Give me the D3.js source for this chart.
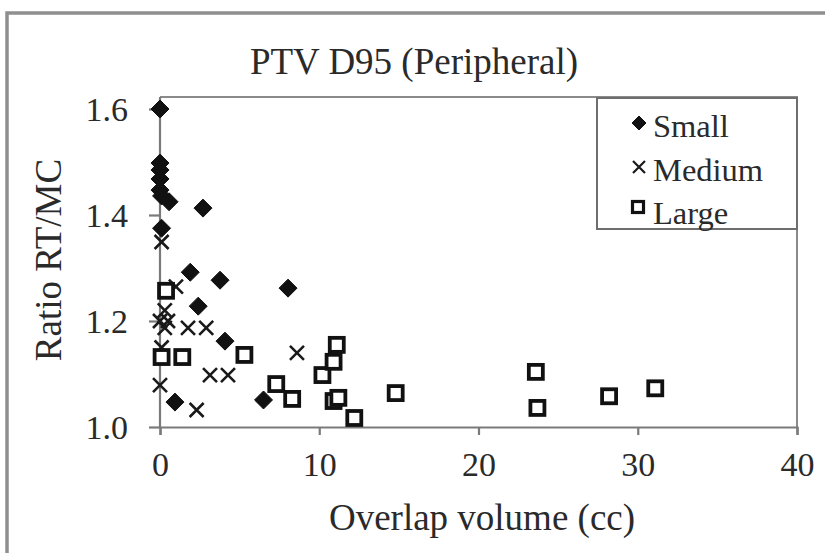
<!DOCTYPE html>
<html>
<head>
<meta charset="utf-8">
<script src="https://cdn.jsdelivr.net/npm/d3@7"></script>
<style>
  html, body { margin: 0; padding: 0; background: #fff; }
  svg { display: block; }
  text { font-family: "Liberation Serif", "DejaVu Serif", serif; fill: #2a2a2a; }
</style>
</head>
<body>
<svg id="chart" width="825" height="553"></svg>
<script>
// Overlap volume (cc) and RT/MC dose ratio for each target size group
const smallX  = [0, 0, 0, 0, 0, 0.1, 0.57, 2.7, 0.1, 1.9, 3.77, 2.4, 4.08, 8.04, 0.94, 6.5];
const smallY  = [1.60, 1.498, 1.485, 1.468, 1.447, 1.436, 1.425, 1.413, 1.375, 1.292, 1.277, 1.228, 1.162, 1.262, 1.047, 1.051];

const mediumX = [0.1, 1.0, 0.3, 0, 0.5, 0.3, 1.76, 2.9, 3.14, 4.27, 0, 2.3, 8.6, 0.1];
const mediumY = [1.349, 1.265, 1.22, 1.20, 1.20, 1.187, 1.187, 1.187, 1.098, 1.098, 1.079, 1.032, 1.14, 1.15];

const largeX  = [0.1, 1.4, 0.38, 5.3, 7.3, 8.3, 10.2, 10.9, 11.1, 10.9, 11.2, 12.2, 14.8, 23.6, 23.7, 28.2, 31.1];
const largeY  = [1.132, 1.132, 1.257, 1.136, 1.081, 1.053, 1.098, 1.123, 1.155, 1.049, 1.055, 1.017, 1.064, 1.104, 1.036, 1.058, 1.073];

const xTicks = [0, 10, 20, 30, 40];
const yTicks = [1.0, 1.2, 1.4, 1.6];
const seriesNames = ["Small", "Medium", "Large"];

const svg = d3.select("#chart");
const W = 825, H = 553;

const plotLeft = 160, plotRight = 797, plotTop = 97, plotBottom = 427;
const x = d3.scaleLinear().domain([0, 40]).range([plotLeft, plotRight]);
const y = d3.scaleLinear().domain([1.0, 1.6]).range([plotBottom, 109]);

const axisGray = "#7a7a7a";

// outer chart frame
svg.append("rect")
  .attr("x", 7).attr("y", 13).attr("width", W + 20).attr("height", H + 20)
  .attr("fill", "#fff").attr("stroke", "#8f8f8f").attr("stroke-width", 3.5);

// plot area border (top and right)
svg.append("path")
  .attr("d", `M${plotLeft},${plotTop}H${plotRight}V${plotBottom}`)
  .attr("fill", "none").attr("stroke", "#8a8a8a").attr("stroke-width", 2);

// axes
const xAxis = svg.append("g").attr("transform", `translate(0,${plotBottom})`)
  .call(d3.axisBottom(x).tickValues(xTicks).tickSize(8).tickPadding(17).tickFormat(d3.format("d")));
const yAxis = svg.append("g").attr("transform", `translate(${plotLeft},0)`)
  .call(d3.axisLeft(y).tickValues(yTicks).tickSize(11).tickPadding(21).tickFormat(d3.format(".1f")));

[xAxis, yAxis].forEach(g => {
  g.select(".domain").attr("stroke", axisGray).attr("stroke-width", 2.2);
  g.selectAll(".tick line").attr("stroke", axisGray).attr("stroke-width", 2.2);
  g.selectAll(".tick text").style("font-size", "34px").attr("fill", "#2a2a2a")
    .style("font-family", "'Liberation Serif', serif");
});
xAxis.selectAll(".tick text").attr("dy", "0.71em");
yAxis.selectAll(".tick text").attr("dy", "0.35em");
yAxis.select(".domain").attr("d", `M0,${plotBottom}V${plotTop}`);

// titles
svg.append("text").attr("x", 414).attr("y", 74).attr("text-anchor", "middle")
  .style("font-size", "37px").text("PTV D95 (Peripheral)");
svg.append("text").attr("x", 482).attr("y", 530).attr("text-anchor", "middle")
  .style("font-size", "37px").text("Overlap volume (cc)");
svg.append("text").attr("transform", "translate(61,260) rotate(-90)").attr("text-anchor", "middle")
  .style("font-size", "37px").text("Ratio RT/MC");

// marker drawers
function diamond(g, cx, cy, r) {
  g.append("path").attr("d", `M${cx},${cy - r}L${cx + r},${cy}L${cx},${cy + r}L${cx - r},${cy}Z`)
    .attr("fill", "#111").attr("stroke", "#111").attr("stroke-width", 1);
}
function cross(g, cx, cy, r, w) {
  g.append("path").attr("d", `M${cx - r},${cy - r}L${cx + r},${cy + r}M${cx - r},${cy + r}L${cx + r},${cy - r}`)
    .attr("stroke", "#1a1a1a").attr("stroke-width", w).attr("fill", "none");
}
function square(g, cx, cy, s, w) {
  g.append("rect").attr("x", cx - s / 2).attr("y", cy - s / 2).attr("width", s).attr("height", s)
    .attr("fill", "#fff").attr("stroke", "#111").attr("stroke-width", w);
}

const marks = svg.append("g");
smallX.forEach((v, i) => diamond(marks, x(v), y(smallY[i]), 9));
mediumX.forEach((v, i) => cross(marks, x(v), y(mediumY[i]), 7, 2.6));
largeX.forEach((v, i) => square(marks, x(v), y(largeY[i]), 14, 3.8));

// legend
const lg = svg.append("g");
lg.append("rect").attr("x", 597).attr("y", 98).attr("width", 200).attr("height", 131)
  .attr("fill", "#fff").attr("stroke", "#6e6e6e").attr("stroke-width", 2);
diamond(lg, 639, 123, 7);
cross(lg, 639, 167, 6, 2.2);
square(lg, 638, 207, 11, 3.2);
seriesNames.forEach((n, i) => {
  lg.append("text").attr("x", 653).attr("y", [137, 181, 224][i])
    .style("font-size", "32.5px").text(n);
});
</script>
</body>
</html>
